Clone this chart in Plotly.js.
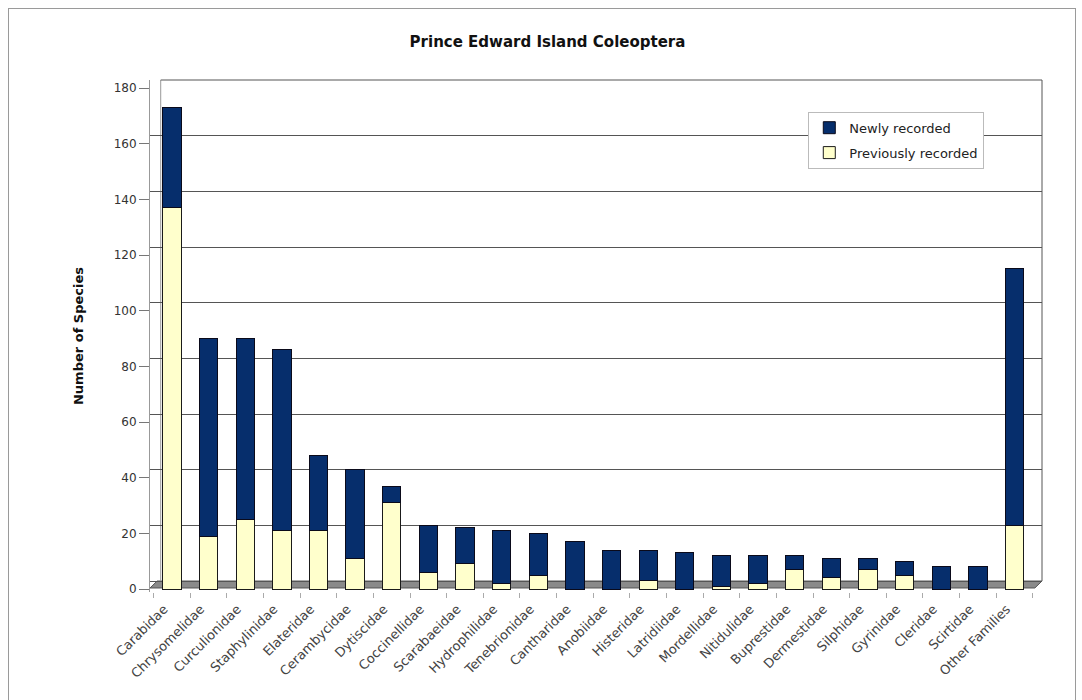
<!DOCTYPE html>
<html>
<head>
<meta charset="utf-8">
<script src="https://cdn.plot.ly/plotly-3.0.1.min.js"></script>
<style>
  html, body { margin: 0; padding: 0; background: #fff; }
  #frame { position: absolute; left: 8px; top: 8px; width: 1066px; height: 720px; border: 1px solid #9a9a9a; }
  #chart { position: absolute; left: 0; top: 0; width: 1082px; height: 700px; }
</style>
</head>
<body>
<div id="frame"></div>
<div id="chart"></div>
<script>
const families = ["Carabidae", "Chrysomelidae", "Curculionidae", "Staphylinidae", "Elateridae",
  "Cerambycidae", "Dytiscidae", "Coccinellidae", "Scarabaeidae", "Hydrophilidae",
  "Tenebrionidae", "Cantharidae", "Anobiidae", "Histeridae", "Latridiidae",
  "Mordellidae", "Nitidulidae", "Buprestidae", "Dermestidae", "Silphidae",
  "Gyrinidae", "Cleridae", "Scirtidae", "Other Families"];
const previouslyRecorded = [137, 19, 25, 21, 21, 11, 31, 6, 9, 2, 5, 0, 0, 3, 0, 1, 2, 7, 4, 7, 5, 0, 0, 23];
const totalSpecies = [173, 90, 90, 86, 48, 43, 37, 23, 22, 21, 20, 17, 14, 14, 13, 12, 12, 12, 11, 11, 10, 8, 8, 115];
const newlyRecorded = totalSpecies.map((t, i) => t - previouslyRecorded[i]);
const yTicks = [0, 20, 40, 60, 80, 100, 120, 140, 160, 180];

const font = "DejaVu Sans, Verdana, sans-serif";
const traces = [
  { type: "scatter", mode: "markers", x: [families[0]], y: [0], showlegend: false,
    marker: { opacity: 0 }, hoverinfo: "skip" },
  { type: "bar", name: "Previously recorded", x: families, y: previouslyRecorded, yaxis: "y2",
    legendgroup: "prev", legendrank: 2,
    marker: { color: "#ffffcc", line: { color: "#1a1a1a", width: 1 } } },
  { type: "bar", name: "Newly recorded", x: families, y: newlyRecorded, yaxis: "y2",
    legendgroup: "new", legendrank: 1,
    marker: { color: "#062e6c", line: { color: "#0a0a1a", width: 1 } } }
];

const pxPerUnit = 512 / 183.94;
const frontShift = 8 / pxPerUnit;
const yMin = -3.94;

const layout = {
  width: 1082, height: 700,
  margin: { l: 150, r: 40, t: 80, b: 108 },
  paper_bgcolor: "rgba(0,0,0,0)", plot_bgcolor: "rgba(0,0,0,0)",
  barmode: "stack", bargap: 0.5,
  showlegend: true,
  title: { text: "<b>Prince Edward Island Coleoptera</b>", x: 0.506, y: 0.94, yanchor: "middle",
    font: { family: font, size: 15, color: "#111" } },
  xaxis: {
    type: "category", range: [-0.6, 23.75], tickangle: -45,
    tickfont: { family: font, size: 13, color: "#444" },
    ticks: "outside", tickson: "boundaries", ticklen: 5, tickcolor: "#aaa",
    ticklabelstandoff: 6, ticklabelshift: -8,
    showline: false, showgrid: false, zeroline: false, fixedrange: true
  },
  yaxis: {
    range: [yMin, 180], tickvals: yTicks, showticklabels: false, ticks: "",
    showline: false, showgrid: true, gridcolor: "#555", gridwidth: 1, zeroline: false,
    title: { text: "<b>Number of Species</b>", standoff: 62, font: { family: font, size: 13, color: "#111" } },
    fixedrange: true
  },
  yaxis2: {
    overlaying: "y", side: "left", anchor: "x",
    range: [yMin + frontShift, 180 + frontShift], tickvals: yTicks, ticktext: yTicks.map(String),
    tickfont: { family: font, size: 12, color: "#333" },
    ticks: "outside", ticklen: 10, tickcolor: "#777",
    showline: true, linecolor: "#999", linewidth: 1,
    showgrid: false, zeroline: false, fixedrange: true
  },
  legend: {
    x: 0.738, y: 0.938, xanchor: "left", yanchor: "top", traceorder: "grouped", tracegroupgap: 5,
    bgcolor: "#ffffff", bordercolor: "#bbbbbb", borderwidth: 1,
    font: { family: font, size: 13, color: "#222" }, itemwidth: 30
  },
  shapes: [
    { type: "path", xref: "paper", yref: "y", path: "M 0,-2.5 L 0.992,-2.5 L 1,0 L 0.008,0 Z",
      fillcolor: "#8a8a8a", line: { color: "#555", width: 1 }, layer: "below" },
    { type: "line", xref: "paper", yref: "paper", x0: 0.012, x1: 1, y0: 1, y1: 1, line: { color: "#555", width: 1 } },
    { type: "line", xref: "paper", yref: "y", x0: 1, x1: 1, y0: 0, y1: 180, line: { color: "#555", width: 1 } },
    { type: "line", xref: "paper", yref: "y", x0: 0.012, x1: 0.012, y0: 0, y1: 180, line: { color: "#999", width: 1 }, layer: "below" }
  ]
};

Plotly.newPlot("chart", traces, layout, { displayModeBar: false, staticPlot: true });
</script>
</body>
</html>
